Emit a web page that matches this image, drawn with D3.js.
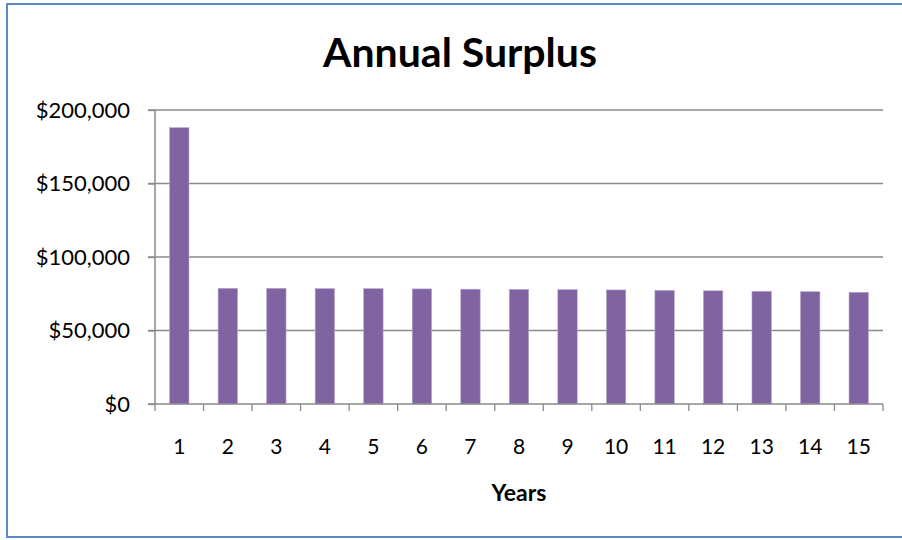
<!DOCTYPE html>
<html>
<head>
<meta charset="utf-8">
<script src="https://cdn.jsdelivr.net/npm/d3@7"></script>
<style>
  html, body { margin: 0; padding: 0; background: #fff; }
  svg { display: block; }
  text { font-family: Lato, "Open Sans", sans-serif; fill: #000; }
</style>
</head>
<body>
<svg id="chart" width="902" height="540"></svg>
<script>
const years = ["1","2","3","4","5","6","7","8","9","10","11","12","13","14","15"];
const surplus = [188000, 78700, 78700, 78500, 78500, 78300, 78100, 78000, 77800, 77600, 77300, 77000, 76700, 76400, 76000];
const yTicks = [0, 50000, 100000, 150000, 200000];
const title = "Annual Surplus";
const xTitle = "Years";

const svg = d3.select("#chart");
const m = { left: 155, right: 883, top: 110, bottom: 404 };

// outer border
svg.append("rect")
  .attr("x", 7).attr("y", 4).attr("width", 898).attr("height", 533)
  .attr("fill", "#fff").attr("stroke", "#5b8ac6").attr("stroke-width", 2);

const x = d3.scaleBand().domain(years).range([m.left, m.right]).paddingInner(0.6).paddingOuter(0.3);
const xb = d3.scaleBand().domain(years).range([m.left, m.right]).padding(0);
const y = d3.scaleLinear().domain([0, 200000]).range([m.bottom, m.top]);

const grid = "#8a8a8a";

// gridlines
svg.append("g").selectAll("line").data(yTicks.filter(d => d > 0)).join("line")
  .attr("x1", m.left - 7).attr("x2", m.right)
  .attr("y1", d => y(d)).attr("y2", d => y(d))
  .attr("stroke", grid).attr("stroke-width", 1.3);

// bars
svg.append("g").selectAll("rect").data(surplus).join("rect")
  .attr("x", (d, i) => x(years[i]))
  .attr("width", x.bandwidth())
  .attr("y", d => y(d))
  .attr("height", d => y(0) - y(d))
  .attr("fill", "#8064a2")
  .attr("stroke", "#b9a8d0").attr("stroke-width", 0.6);

// y axis
const yAxis = d3.axisLeft(y).tickValues(yTicks).tickSize(7).tickPadding(18)
  .tickFormat(d => "$" + d3.format(",")(d));
const gy = svg.append("g").attr("transform", `translate(${m.left},0)`).call(yAxis);
gy.select(".domain").attr("stroke", grid).attr("stroke-width", 1.5).attr("d", `M0,${m.top}V${m.bottom}`);
gy.selectAll(".tick line").attr("stroke", grid).attr("stroke-width", 1.3);
gy.selectAll(".tick text").style("font-size", "22px").style("font-family", "Lato, sans-serif").attr("fill", "#000");

// x axis
const gx = svg.append("g").attr("transform", `translate(0,${m.bottom})`);
gx.append("line").attr("x1", m.left - 7).attr("x2", m.right).attr("y1", 0).attr("y2", 0)
  .attr("stroke", grid).attr("stroke-width", 1.5);
const bounds = years.map(d => xb(d)).concat([m.right]);
gx.selectAll("line.tk").data(bounds).join("line").attr("class", "tk")
  .attr("x1", d => d).attr("x2", d => d).attr("y1", 0).attr("y2", 7)
  .attr("stroke", grid).attr("stroke-width", 1.3);
gx.selectAll("text").data(years).join("text")
  .attr("x", d => xb(d) + xb.bandwidth() / 2)
  .attr("y", 50)
  .attr("text-anchor", "middle")
  .style("font-size", "21px")
  .text(d => d);

// titles
svg.append("text").attr("x", 460).attr("y", 67).attr("text-anchor", "middle")
  .style("font-size", "41px").style("font-weight", "bold").text(title);
svg.append("text").attr("x", (m.left + m.right) / 2).attr("y", 501).attr("text-anchor", "middle")
  .style("font-size", "23px").style("font-weight", "bold").text(xTitle);
</script>
</body>
</html>
